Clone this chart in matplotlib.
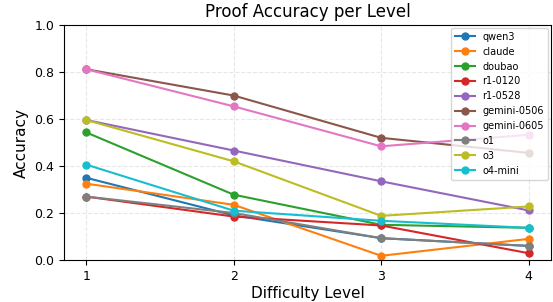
import matplotlib
matplotlib.use('Agg')
import matplotlib.pyplot as plt

levels = [1, 2, 3, 4]

models = ['qwen3', 'claude', 'doubao', 'r1-0120', 'r1-0528',
          'gemini-0506', 'gemini-0605', 'o1', 'o3', 'o4-mini']

qwen3 = [0.35, 0.19, 0.093, 0.06]
claude = [0.325, 0.235, 0.018, 0.09]
doubao = [0.543, 0.278, 0.15, 0.137]
r1_0120 = [0.27, 0.185, 0.147, 0.029]
r1_0528 = [0.596, 0.466, 0.335, 0.211]
gemini_0506 = [0.812, 0.70, 0.52, 0.456]
gemini_0605 = [0.812, 0.654, 0.484, 0.533]
o1 = [0.27, 0.20, 0.093, 0.06]
o3 = [0.596, 0.42, 0.188, 0.228]
o4_mini = [0.406, 0.21, 0.167, 0.137]

series = [qwen3, claude, doubao, r1_0120, r1_0528,
          gemini_0506, gemini_0605, o1, o3, o4_mini]

fig, ax = plt.subplots(figsize=(5.53, 3.02), dpi=100)

for name, vals in zip(models, series):
    ax.plot(levels, vals, 'o-', linewidth=1.5, markersize=5, label=name)

ax.set_xticks(levels)
ax.set_ylim(0, 1.0)
ax.set_xlabel('Difficulty Level', fontsize=11, labelpad=2)
ax.set_ylabel('Accuracy', fontsize=11)
ax.set_title('Proof Accuracy per Level', fontsize=12)
ax.tick_params(labelsize=9)
ax.grid(True, linestyle='--', alpha=0.3)
ax.legend(loc='upper right', fontsize=7, borderaxespad=0.3)

plt.subplots_adjust(left=0.116, right=0.996, top=0.917, bottom=0.139)
plt.savefig('out.png', dpi=100)
plt.close()
